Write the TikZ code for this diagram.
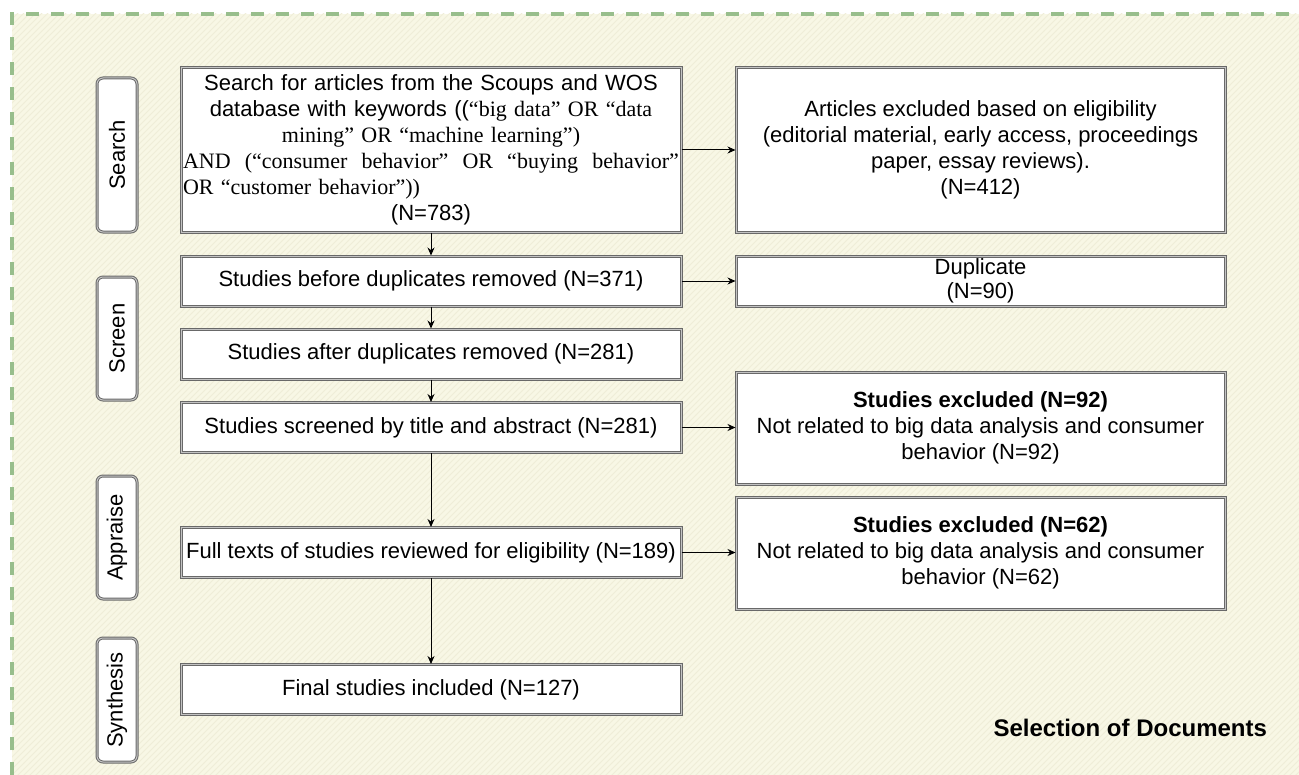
\documentclass[tikz,border=0pt]{standalone}
\usepackage{fontspec}
\setmainfont{Liberation Sans}
\newfontfamily\timesfont{Liberation Serif}
\usepackage{xcolor}
\usepackage{tikz}
\usetikzlibrary{shapes,arrows,positioning,calc,patterns,arrows.meta}

\definecolor{bgcream}{RGB}{248,247,229}
\definecolor{hatchcream}{RGB}{239,237,216}
\definecolor{dashgreen}{RGB}{152,190,140}
\definecolor{boxedge}{RGB}{105,105,105}
\definecolor{boxmid}{RGB}{195,195,195}

\tikzset{
  flowbox/.style={draw=boxedge, double=boxmid, double distance=0.5pt, line width=0.5pt,
    fill=white, minimum width=250pt, align=center, inner sep=1pt,
    font=\fontsize{11}{13}\selectfont},
  sidebox/.style={flowbox, minimum width=244.5pt},
  stagebox/.style={draw=boxedge, double=boxmid, double distance=0.5pt, line width=0.5pt,
    fill=white, rounded corners=3pt, minimum height=20pt, rotate=90,
    font=\fontsize{11}{13}\selectfont},
  flowarrow/.style={-{Stealth[length=4pt,width=3.5pt]}, line width=0.5pt},
}

\begin{document}
\begin{tikzpicture}[x=0.5pt, y=-0.5pt]
            \useasboundingbox (0,0) rectangle (1299,775);
            \fill[white] (0,0) rectangle (1299,775);
            \clip (0,0) rectangle (1299,775);

            % Frame
            \fill[bgcream] (12,14) rectangle (1330,800);
            \fill[pattern=north east lines, pattern color=hatchcream] (12,14) rectangle (1330,800);
            \draw[dashgreen, line width=1.6pt, dash pattern=on 6.5pt off 6pt] (12,800) -- (12,14) -- (1330,14);

            % Stages
            \node[stagebox, minimum width=77pt] (stagesearch) at (117,155) {Search};
            \node[stagebox, minimum width=61.5pt] (stagescreen) at (117,338.5) {Screen};
            \node[stagebox, minimum width=61.5pt] (stageappraise) at (117,537.5) {Appraise};
            \node[stagebox, minimum width=62pt] (stagesynth) at (117,700) {Synthesis};

            % Main flow
            \node[flowbox, minimum height=82pt, text width=248pt, inner sep=0.5pt] (articles) at (431,150) {Search for articles from the Scoups and WOS\\
              database with keywords (({\timesfont “big data” OR “data}\\
              {\timesfont mining” OR “machine learning”)}\\
              \makebox[248pt][s]{\timesfont AND\hfill(“consumer\hfill behavior”\hfill OR\hfill “buying\hfill behavior”}\\
              \makebox[248pt][l]{\timesfont OR “customer behavior”))}\\
              (N=783)};
            \node[flowbox, minimum height=25pt] (before) at (431,281) {Studies before duplicates removed (N=371)};
            \node[flowbox, minimum height=25pt] (after) at (431,354) {Studies after duplicates removed (N=281)};
            \node[flowbox, minimum height=25pt] (screened) at (431,427.5) {Studies screened by title and abstract (N=281)};
            \node[flowbox, minimum height=25pt] (fulltext) at (431,552.5) {Full texts of studies reviewed for eligibility (N=189)};
            \node[flowbox, minimum height=25pt] (final) at (431,689.5) {Final studies included (N=127)};

            % Exclusions
            \node[sidebox, minimum height=82pt] (ineligible) at (980.5,150) {Articles excluded based on eligibility\\(editorial material, early access, proceedings\\paper, essay reviews).\\(N=412)};
            \node[sidebox, minimum height=25pt, font=\fontsize{11}{12}\selectfont] (duplicate) at (980.5,281) {Duplicate\\(N=90)};
            \node[sidebox, minimum height=56pt] (excltitle) at (980.5,428) {\textbf{Studies excluded (N=92)}\\Not related to big data analysis and consumer\\behavior (N=92)};
            \node[sidebox, minimum height=56pt] (excltext) at (980.5,553) {\textbf{Studies excluded (N=62)}\\Not related to big data analysis and consumer\\behavior (N=62)};

            \node[anchor=east, font=\fontsize{12}{14}\selectfont\bfseries] (selection) at (1274,728) {Selection of Documents};

            % Arrows
            \draw[flowarrow] (articles) -- (before);
            \draw[flowarrow] (before) -- (after);
            \draw[flowarrow] (after) -- (screened);
            \draw[flowarrow] (screened) -- (fulltext);
            \draw[flowarrow] (fulltext) -- (final);
            \draw[flowarrow] (articles) -- (ineligible);
            \draw[flowarrow] (before) -- (duplicate);
            \draw[flowarrow] (screened.east) -- (screened.east -| excltitle.west);
            \draw[flowarrow] (fulltext.east) -- (fulltext.east -| excltext.west);
\end{tikzpicture}
\end{document}
